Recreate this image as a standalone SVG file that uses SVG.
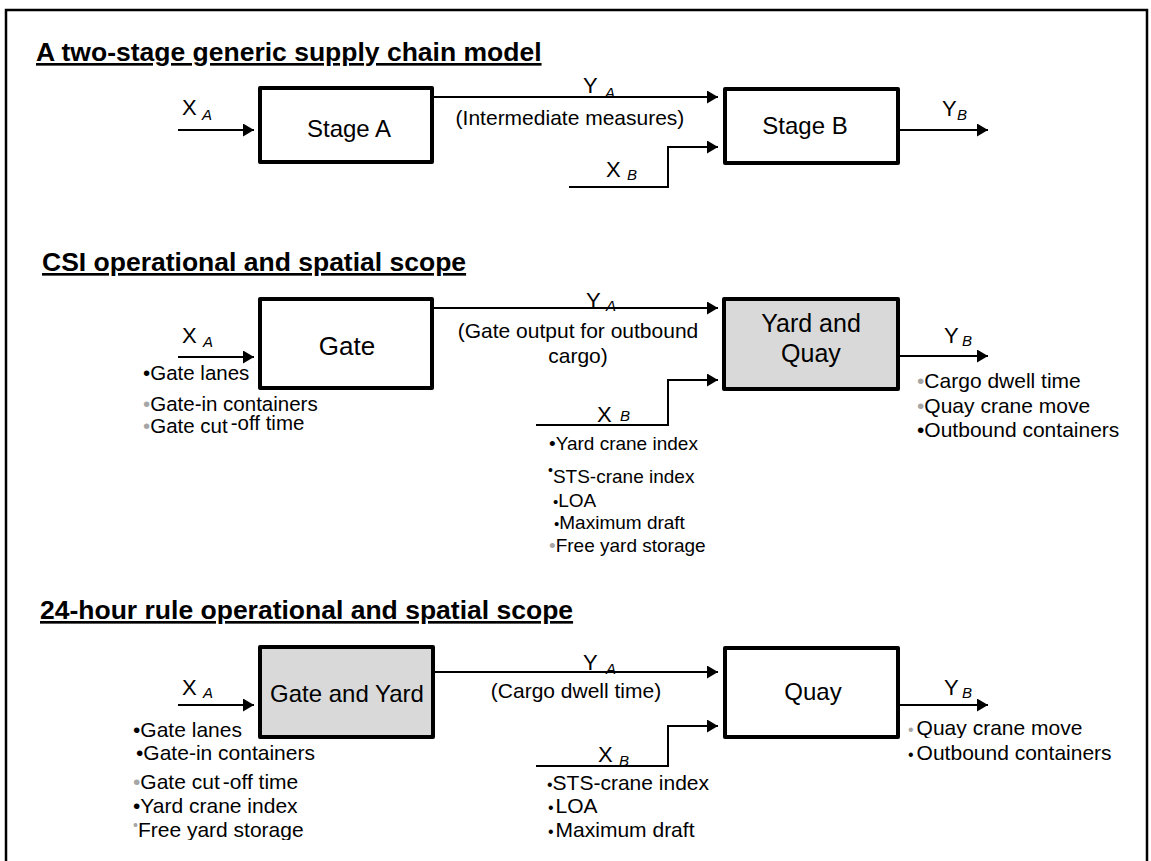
<svg xmlns="http://www.w3.org/2000/svg" width="1151" height="861" viewBox="0 0 1151 861">
  <style>
    text { font-family: "Liberation Sans", Arial, Helvetica, sans-serif; fill: #000; }
    .title { font-weight: bold; font-size: 26.5px; text-decoration: underline; }
    .node { fill: #fff; stroke: #000; stroke-width: 4; stroke-linejoin: round; }
    .shaded { fill: #d9d9d9; }
    .blabel { font-size: 24px; text-anchor: middle; }
    .lab { font-size: 22px; }
    .sub { font-size: 15px; font-style: italic; }
    .ann { font-size: 21px; text-anchor: middle; }
    .li { font-size: 21px; }
    .li19 { font-size: 19px; }
    .li20 { font-size: 20.5px; }
    .g { fill: #a6a6a6; }
    .conn { fill: none; stroke: #000; stroke-width: 2; }
    .frame { fill: none; stroke: #000; stroke-width: 2.5; }
  </style>
  <defs>
    <marker id="arrow" markerUnits="userSpaceOnUse" markerWidth="12" markerHeight="14" refX="11" refY="6.5" orient="auto">
      <path d="M0,0 L11,6.5 L0,13 z" fill="#000"/>
    </marker>
    <clipPath id="clipFree2"><rect x="500" y="530" width="250" height="26"/></clipPath>
    <clipPath id="clipFree3"><rect x="100" y="815" width="250" height="25"/></clipPath>
    <clipPath id="clipQuay3"><rect x="880" y="712" width="250" height="26"/></clipPath>
  </defs>

  <rect width="1151" height="861" fill="#fff"/>
  <path class="frame" d="M6,861 V10 H1147 V861"/>

  <!-- section headings -->
  <g id="headings">
    <text class="title" x="36" y="61">A two-stage generic supply chain model</text>
    <text class="title" x="42" y="271">CSI operational and spatial scope</text>
    <text class="title" x="40" y="619">24-hour rule operational and spatial scope</text>
  </g>

  <!-- connectors -->
  <g id="connectors">
    <!-- generic model -->
    <line class="conn" x1="178" y1="130" x2="254" y2="130" marker-end="url(#arrow)"/>
    <line class="conn" x1="432" y1="97" x2="718" y2="97" marker-end="url(#arrow)"/>
    <polyline class="conn" points="569,187 668,187 668,147 718,147" marker-end="url(#arrow)"/>
    <line class="conn" x1="898" y1="130" x2="988" y2="130" marker-end="url(#arrow)"/>
    <!-- CSI scope -->
    <line class="conn" x1="178" y1="357" x2="254" y2="357" marker-end="url(#arrow)"/>
    <line class="conn" x1="432" y1="308" x2="718" y2="308" marker-end="url(#arrow)"/>
    <polyline class="conn" points="536,425 668,425 668,380 718,380" marker-end="url(#arrow)"/>
    <line class="conn" x1="898" y1="356" x2="988" y2="356" marker-end="url(#arrow)"/>
    <!-- 24-hour rule scope -->
    <line class="conn" x1="178" y1="705" x2="254" y2="705" marker-end="url(#arrow)"/>
    <line class="conn" x1="433" y1="672" x2="718" y2="672" marker-end="url(#arrow)"/>
    <polyline class="conn" points="536,766 668,766 668,726 718,726" marker-end="url(#arrow)"/>
    <line class="conn" x1="898" y1="705" x2="988" y2="705" marker-end="url(#arrow)"/>
  </g>

  <!-- generic model nodes -->
  <g id="stage-a">
    <rect class="node" x="260" y="88" width="172" height="74"/>
    <text class="blabel" x="349" y="137">Stage A</text>
  </g>
  <g id="stage-b">
    <rect class="node" x="725" y="89" width="173" height="74"/>
    <text class="blabel" x="805" y="134">Stage B</text>
  </g>
  <g id="generic-labels">
    <text class="lab" x="182" y="115">X<tspan class="sub" x="202" y="120">A</tspan></text>
    <text class="lab" x="583" y="93">Y<tspan class="sub" x="605" y="98">A</tspan></text>
    <text class="ann" x="570" y="125">(Intermediate measures)</text>
    <text class="lab" x="606" y="177">X<tspan class="sub" x="627" y="180">B</tspan></text>
    <text class="lab" x="942" y="116">Y<tspan class="sub" x="957" y="120">B</tspan></text>
  </g>

  <!-- CSI scope nodes -->
  <g id="gate">
    <rect class="node" x="260" y="299" width="172" height="89"/>
    <text class="blabel" x="347" y="355" style="font-size:26px">Gate</text>
  </g>
  <g id="yard-and-quay">
    <rect class="node shaded" x="724" y="299" width="174" height="90"/>
    <text class="blabel" x="811" y="332" style="font-size:25px">Yard and</text>
    <text class="blabel" x="811" y="362" style="font-size:25px">Quay</text>
  </g>
  <g id="csi-labels">
    <text class="lab" x="182" y="343">X<tspan class="sub" x="203" y="347">A</tspan></text>
    <text class="li20" x="143" y="380"><tspan>•</tspan>Gate lanes</text>
    <text class="li20" x="143" y="411"><tspan class="g">•</tspan>Gate-in containers</text>
    <text class="li20" x="143" y="433"><tspan class="g">•</tspan>Gate cut<tspan dx="3" dy="-3">-off time</tspan></text>

    <text class="lab" x="586" y="308">Y<tspan class="sub" x="606" y="311">A</tspan></text>
    <text class="ann" x="578" y="338">(Gate output for outbound</text>
    <text class="ann" x="578" y="363">cargo)</text>

    <text class="lab" x="597" y="422">X<tspan class="sub" x="620" y="421">B</tspan></text>
    <text class="li19" x="549" y="450"><tspan>•</tspan>Yard crane index</text>
    <text class="li19" x="548" y="483"><tspan dy="-8" font-size="14px">•</tspan><tspan dy="8">STS-crane index</tspan></text>
    <text class="li19" x="553" y="507"><tspan font-size="15px">•</tspan>LOA</text>
    <text class="li19" x="554" y="529"><tspan font-size="15px">•</tspan>Maximum draft</text>
    <text class="li19" x="549" y="552" clip-path="url(#clipFree2)"><tspan class="g">•</tspan>Free yard storage</text>

    <text class="lab" x="944" y="343">Y<tspan class="sub" x="962" y="346">B</tspan></text>
    <text class="li" x="917" y="388"><tspan class="g">•</tspan>Cargo dwell time</text>
    <text class="li" x="917" y="413"><tspan class="g">•</tspan>Quay crane move</text>
    <text class="li" x="917" y="437"><tspan>•</tspan>Outbound containers</text>
  </g>

  <!-- 24-hour rule scope nodes -->
  <g id="gate-and-yard">
    <rect class="node shaded" x="260" y="647" width="173" height="90"/>
    <text class="blabel" x="347" y="702">Gate and Yard</text>
  </g>
  <g id="quay">
    <rect class="node" x="725" y="648" width="173" height="89"/>
    <text class="blabel" x="813" y="700">Quay</text>
  </g>
  <g id="rule-labels">
    <text class="lab" x="182" y="695">X<tspan class="sub" x="203" y="698">A</tspan></text>
    <text class="li" x="133" y="737"><tspan>•</tspan>Gate lanes</text>
    <text class="li" x="136" y="760"><tspan>•</tspan>Gate-in containers</text>
    <text class="li" x="133" y="789"><tspan class="g">•</tspan>Gate cut<tspan dx="3">-off time</tspan></text>
    <text class="li" x="133" y="813"><tspan>•</tspan>Yard crane index</text>
    <text class="li" x="133" y="837" clip-path="url(#clipFree3)"><tspan class="g" dy="-7" font-size="14px">•</tspan><tspan dy="7">Free yard storage</tspan></text>

    <text class="lab" x="583" y="670">Y<tspan class="sub" x="606" y="674">A</tspan></text>
    <text class="ann" x="576" y="698">(Cargo dwell time)</text>

    <text class="lab" x="598" y="762">X<tspan class="sub" x="619" y="766">B</tspan></text>
    <text class="li" x="547" y="790"><tspan font-size="16px">•</tspan>STS-crane index</text>
    <text class="li" x="548" y="813"><tspan font-size="16px">•</tspan><tspan dx="2">LOA</tspan></text>
    <text class="li" x="548" y="837"><tspan font-size="16px">•</tspan><tspan dx="2">Maximum draft</tspan></text>

    <text class="lab" x="944" y="695">Y<tspan class="sub" x="962" y="698">B</tspan></text>
    <text class="li" x="908" y="735" clip-path="url(#clipQuay3)"><tspan class="g" font-size="16px">•</tspan><tspan dx="3">Quay crane move</tspan></text>
    <text class="li" x="908" y="760"><tspan font-size="16px">•</tspan><tspan dx="3">Outbound containers</tspan></text>
  </g>
</svg>
